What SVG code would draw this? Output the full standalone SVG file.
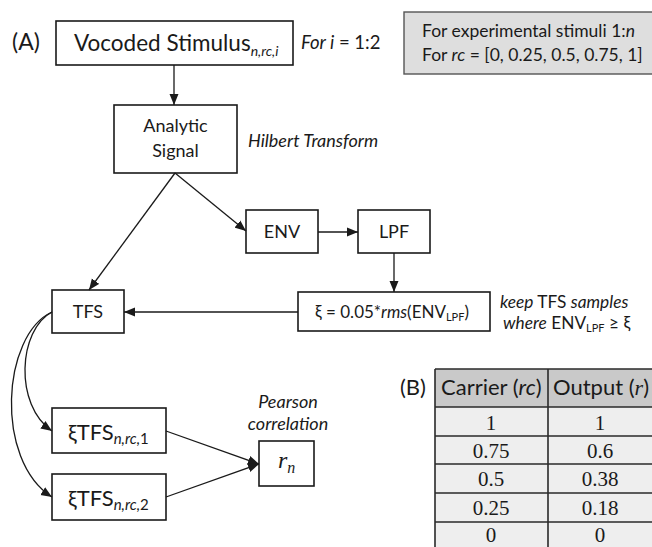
<svg xmlns="http://www.w3.org/2000/svg" width="652" height="547" viewBox="0 0 652 547">
<style>
text{font-family:Lato,"Liberation Sans",sans-serif;fill:#1a1a1a}
.box{fill:#fff;stroke:#1a1a1a;stroke-width:1.6}
.c{stroke:#1a1a1a;stroke-width:1.3;fill:none;marker-end:url(#ah)}
.i{font-style:italic}
.t{font-size:18px}
.s{font-size:17.5px}
.si{font-size:18px;font-style:italic}
.big{font-size:22px}
.serif{font-family:"Liberation Serif",serif}
.grid{stroke:#2a2a2a;stroke-width:1.6;fill:none}
</style>
<defs>
<marker id="ah" markerUnits="userSpaceOnUse" markerWidth="12" markerHeight="10" refX="11" refY="5" orient="auto">
<path d="M0,0.5 L11,5 L0,9.5 Z" fill="#1a1a1a"/>
</marker>
</defs>
<rect width="652" height="547" fill="#fff"/>

<text x="12" y="50" font-size="23">(A)</text>

<g id="note">
<rect x="404" y="12" width="252" height="62" fill="#dedede" stroke="#555" stroke-width="1.4"/>
<text x="422" y="37" class="s">For experimental stimuli 1:<tspan class="i">n</tspan></text>
<text x="422" y="61" class="s">For <tspan class="i">rc</tspan> = [0, 0.25, 0.5, 0.75, 1]</text>
</g>

<g id="vocoded">
<rect x="56" y="21" width="237" height="44" class="box"/>
<text x="74" y="51" font-size="22.5">Vocoded Stimulus<tspan class="i" font-size="14" dy="5">n,rc,i</tspan></text>
</g>
<text x="301" y="49" font-size="18.5"><tspan class="i">For i</tspan> = 1:2</text>

<g id="analytic">
<rect x="114" y="105" width="123" height="68" class="box"/>
<text x="175.5" y="132" class="t" text-anchor="middle">Analytic</text>
<text x="175.5" y="157" class="t" text-anchor="middle">Signal</text>
</g>
<text x="248" y="147" class="si">Hilbert Transform</text>

<g id="env">
<rect x="246" y="210" width="72" height="43" class="box"/>
<text x="282" y="238" class="t" text-anchor="middle">ENV</text>
</g>
<g id="lpf">
<rect x="358" y="210" width="72" height="43" class="box"/>
<text x="394" y="238" class="t" text-anchor="middle">LPF</text>
</g>

<g id="tfs">
<rect x="52" y="290" width="72" height="43" class="box"/>
<text x="88" y="318" class="t" text-anchor="middle">TFS</text>
</g>

<g id="xi">
<rect x="298" y="292" width="192" height="39" class="box"/>
<text x="392" y="318" font-size="17" text-anchor="middle">ξ = 0.05*<tspan class="i">rms</tspan>(ENV<tspan font-size="11" dy="3">LPF</tspan><tspan dy="-3">)</tspan></text>
</g>
<text x="500" y="308" font-size="17.3"><tspan class="i">keep</tspan> TFS <tspan class="i">samples</tspan></text>
<text x="503" y="329" font-size="17.3"><tspan class="i">where</tspan> ENV<tspan font-size="11" dy="3">LPF</tspan><tspan dy="-3"> ≥ ξ</tspan></text>

<g id="xtfs1">
<rect x="52" y="408" width="114" height="45" class="box"/>
<text x="68" y="440" class="big">ξTFS<tspan class="i" font-size="15" dy="4">n,rc,</tspan><tspan font-size="15">1</tspan></text>
</g>
<g id="xtfs2">
<rect x="52" y="474" width="114" height="46" class="box"/>
<text x="68" y="506" class="big">ξTFS<tspan class="i" font-size="15" dy="4">n,rc,</tspan><tspan font-size="15">2</tspan></text>
</g>

<g id="rn">
<rect x="259" y="441" width="55" height="45" class="box"/>
<text x="278" y="468" class="serif i" font-size="24">r<tspan font-size="16" dy="5">n</tspan></text>
</g>
<text x="288" y="408" class="si" text-anchor="middle">Pearson</text>
<text x="288" y="430" class="si" text-anchor="middle">correlation</text>

<g id="connectors">
<line x1="174" y1="65" x2="174" y2="105" class="c"/>
<line x1="175" y1="173" x2="89" y2="290" class="c"/>
<line x1="175" y1="173" x2="246" y2="231" class="c"/>
<line x1="318" y1="232" x2="358" y2="232" class="c"/>
<line x1="394" y1="253" x2="394" y2="292" class="c"/>
<line x1="298" y1="312" x2="124" y2="312" class="c"/>
<path d="M52,312 C18,330 14,405 52,431" class="c"/>
<path d="M52,312 C2,335 -6,460 52,497" class="c"/>
<line x1="166" y1="431" x2="259" y2="464" class="c"/>
<line x1="166" y1="497" x2="259" y2="464" class="c"/>
</g>

<text x="400" y="395" class="big">(B)</text>
<g id="table">
<rect x="435" y="369" width="220" height="38" fill="#c9c9c9"/>
<rect x="435" y="407" width="220" height="145" fill="#eeeeee"/>
<path class="grid" d="M435,369 H655 M435,407 H655 M435,436 H655 M435,464 H655 M435,493 H655 M435,522 H655 M435,369 V547 M548,369 V547"/>
<text x="441" y="395" class="big">Carrier (<tspan class="i">rc</tspan>)</text>
<text x="553" y="395" class="big">Output (<tspan class="i serif">r</tspan>)</text>
<g font-size="21" text-anchor="middle">
<text x="491" y="430" class="serif">1</text><text x="600" y="430" class="serif">1</text>
<text x="491" y="458" class="serif">0.75</text><text x="600" y="458" class="serif">0.6</text>
<text x="491" y="486" class="serif">0.5</text><text x="600" y="486" class="serif">0.38</text>
<text x="491" y="515" class="serif">0.25</text><text x="600" y="515" class="serif">0.18</text>
<text x="491" y="542" class="serif">0</text><text x="600" y="542" class="serif">0</text>
</g>
</g>
</svg>
